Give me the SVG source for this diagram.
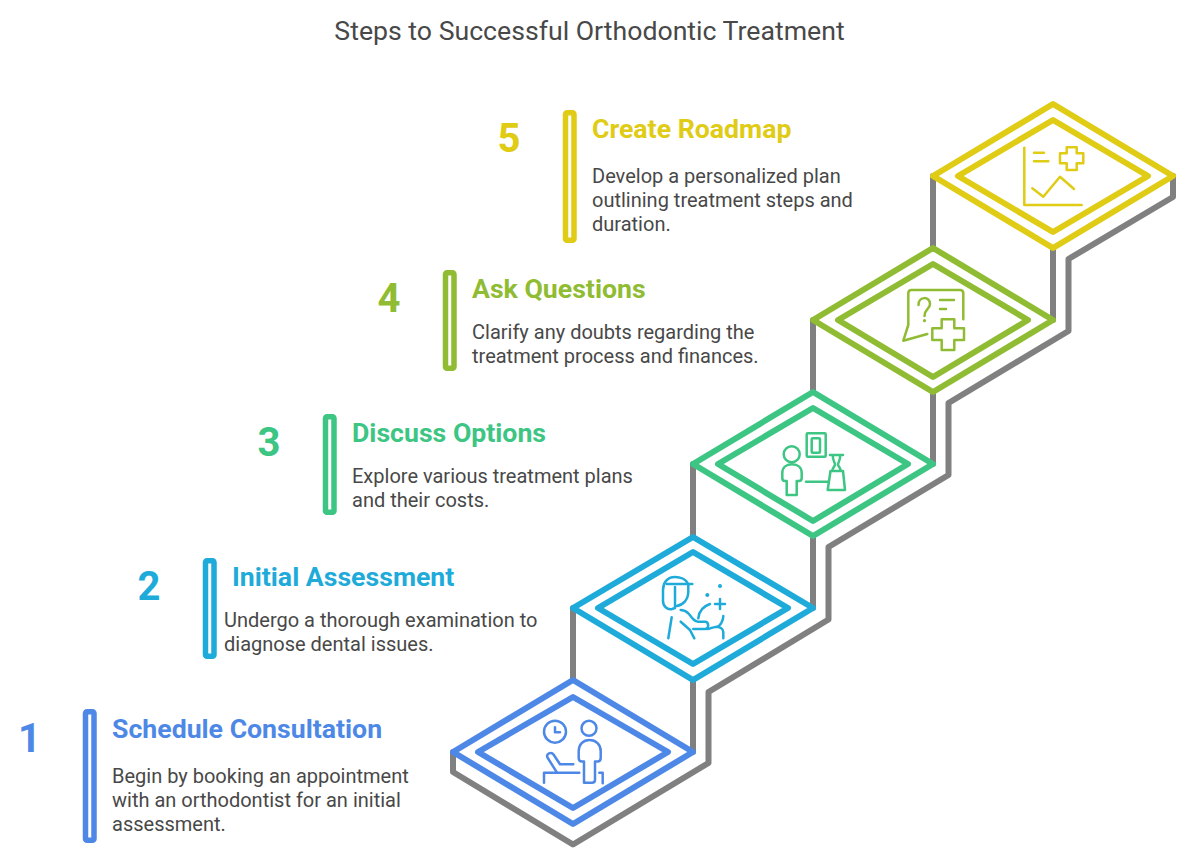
<svg xmlns="http://www.w3.org/2000/svg" width="1199" height="864" viewBox="0 0 1199 864">
<style>
text{font-family:Roboto,"Liberation Sans",sans-serif}
.title{font-size:26.670px;fill:#484848}
.head{font-size:26.670px;font-weight:700}
.num{font-size:40px;font-weight:700;text-anchor:middle}
.body{font-size:20px;fill:#484848}
.gray{fill:none;stroke:#808080;stroke-width:6;stroke-linejoin:round;stroke-linecap:round}
.d{fill:none;stroke-width:6;stroke-linejoin:round}
.i{fill:none;stroke-width:2.5;stroke-linecap:round;stroke-linejoin:round}
.bar{fill:none;stroke-width:5.500}
.c1{stroke:#4e88e7}.c2{stroke:#1eabda}.c3{stroke:#3cc583}.c4{stroke:#90bc33}.c5{stroke:#e0cb15}
.f1{fill:#4e88e7}.f2{fill:#1eabda}.f3{fill:#3cc583}.f4{fill:#90bc33}.f5{fill:#e0cb15}
</style>
<rect width="1199" height="864" fill="#fff"/>
<text class="title" x="589.5" y="40" text-anchor="middle">Steps to Successful Orthodontic Treatment</text>
<g id="connectors">
<path class="gray" d="M453 752V772L573 844.500L708.500 763V692L828.500 619.500V547L948.500 475V403L1068.500 331V259L1173 197V176"/>
<path class="gray" d="M573 608V680M693 680V752M693 464V536M813 536V608M813 320V392M933 392V464M933 176V248M1053 248V320"/>
</g>
<g id="step1">
<path class="d c1" d="M573 680L693 752L573 824L453 752Z"/><path class="d c1" d="M573 697L668 752L573 808L478 752Z"/>
<g class="i c1"><circle cx="555" cy="731.700" r="11"/><path d="M555 727.300V732.300H560"/><circle cx="589" cy="728.300" r="7.500"/>
<path d="M584 782.700V761.500H582C580 761.500 578.700 760 578.700 758V751C578.700 744.500 583 740 589.500 740C596 740 600.700 744.500 600.700 751V758C600.700 760 599.500 761.500 597.500 761.500H595V780C595 782 594 782.700 592 782.700H586C584.700 782.700 584 782 584 780.500"/>
<path d="M573.300 764.300H560L553.500 754.500C551.500 751.500 545.500 753.500 547.500 757.500L557 772.700"/>
<path d="M544 782.700V772.700H579.300M599.300 772.700H602.700V783.300"/></g>
<rect class="bar c1" x="85.500" y="711.750" width="8.500" height="128.500" rx="1.500"/>
<text class="num f1" x="29.500" y="752">1</text>
<text class="head f1" x="112" y="738">Schedule Consultation</text>
<text class="body" x="112" y="783">Begin by booking an appointment</text>
<text class="body" x="112" y="807">with an orthodontist for an initial</text>
<text class="body" x="112" y="831">assessment.</text>
</g>
<g id="step2">
<path class="d c2" d="M693 537L813 608L693 680L573 608Z"/><path class="d c2" d="M693 552L788 608L693 664L598 608Z"/>
<g class="i c2"><path d="M666.700 584H692.300"/>
<path d="M688 584C686 579 680 577 675 577C667 577 663 583 663 590V601C663 606 667 610 672 609L675 608V587"/>
<path d="M688.300 585V592C688 600 683 605 676.700 606"/>
<path d="M671.700 617.300L668.300 638.300"/>
<path d="M680.700 610C684 610 687 612 688.300 613.300L693 619C695 621 696 621.700 698 621.700H705C709 621.700 709.500 629 705 629H693.300"/>
<path d="M680.700 621.700L690 630L694.300 638.300"/>
<path d="M698.300 618.300C699 611 704 606 710 604"/>
<path d="M723.300 616C723.300 621 720 626.700 716.700 626.700C713 627 710 629 706.700 629M716.700 626.700C720 627 723.300 629 723.300 632V638.300"/>
<path d="M720 599V609M715 604H725"/></g>
<circle class="f2" cx="720" cy="586" r="2"/><circle class="f2" cx="707.300" cy="595" r="2"/>
<rect class="bar c2" x="205.500" y="560.750" width="8.500" height="95.500" rx="1.500"/>
<text class="num f2" x="149" y="600">2</text>
<text class="head f2" x="232" y="586">Initial Assessment</text>
<text class="body" x="224" y="627">Undergo a thorough examination to</text>
<text class="body" x="224" y="651">diagnose dental issues.</text>
</g>
<g id="step3">
<path class="d c3" d="M813 392L933 464L813 536L693 464Z"/><path class="d c3" d="M813 408L908 464L813 521L718 464Z"/>
<g class="i c3"><rect x="806.700" y="433.300" width="19" height="23.400" rx="1"/><rect x="811.700" y="438.300" width="8.300" height="14.400" rx="1"/>
<circle cx="791.700" cy="454.300" r="8"/>
<path d="M786.700 495V481H785C783.300 481 782.300 480 782.300 478V473C782.300 467.500 786 464.300 792 464.300C798 464.300 801.700 467.500 801.700 473V478C801.700 480 800.700 481 799 481H796.700V495Z"/>
<path d="M806 481.700H828.300"/>
<path d="M830.500 471H843L845 490H827.700Z"/>
<path d="M830 455H843M833 455C832 460 835 462 835 464.500C835 466 833 467 832.500 470M840 455C841 460 838 462 838 464.500C838 466 840 467 840.500 470"/></g>
<rect class="bar c3" x="325.500" y="416.750" width="8.500" height="95.500" rx="1.500"/>
<text class="num f3" x="269" y="456">3</text>
<text class="head f3" x="352" y="442">Discuss Options</text>
<text class="body" x="352" y="483">Explore various treatment plans</text>
<text class="body" x="352" y="507">and their costs.</text>
</g>
<g id="step4">
<path class="d c4" d="M933 248L1053 320L933 392L813 320Z"/><path class="d c4" d="M933 264L1028 320L933 377L838 320Z"/>
<g class="i c4"><path d="M963.300 319.300V293.300C963.300 291 962 290 960 290H911.500C909.500 290 908.300 291 908.300 293.300V325L903.300 340.700L927.300 334"/>
<path d="M918.500 305C918.500 296 930 296 930 304C930 309 924.500 309 924.500 316"/>
<path d="M940 300H954M940 309H946"/>
<path d="M941.700 319.300H954.300V328.300H964V340H954.300V350H941.700V340H932.300V328.300H941.700Z"/></g>
<circle class="f4" cx="924.500" cy="320.700" r="1.600"/>
<rect class="bar c4" x="445.500" y="272.750" width="8.500" height="95.500" rx="1.500"/>
<text class="num f4" x="389" y="312">4</text>
<text class="head f4" x="472" y="298">Ask Questions</text>
<text class="body" x="472" y="339">Clarify any doubts regarding the</text>
<text class="body" x="472" y="363">treatment process and finances.</text>
</g>
<g id="step5">
<path class="d c5" d="M1053 104L1173 176L1053 248L933 176Z"/><path class="d c5" d="M1053 120L1148 176L1053 232L958 176Z"/>
<g class="i c5"><path d="M1024.300 147.700V205H1081.700"/>
<path d="M1034 152.700H1044M1034 161.300H1048.300"/>
<path d="M1066.700 147.300H1076.700V153.300H1083.300V163.300H1076.700V170H1066.700V163.300H1060V153.300H1066.700Z"/>
<path d="M1032.300 188.300L1043.300 196.700L1060 176.700L1074 189"/></g>
<rect class="bar c5" x="565.500" y="112.750" width="8.500" height="127.500" rx="1.500"/>
<text class="num f5" x="509" y="152">5</text>
<text class="head f5" x="592" y="138">Create Roadmap</text>
<text class="body" x="592" y="183">Develop a personalized plan</text>
<text class="body" x="592" y="207">outlining treatment steps and</text>
<text class="body" x="592" y="231">duration.</text>
</g>
</svg>
